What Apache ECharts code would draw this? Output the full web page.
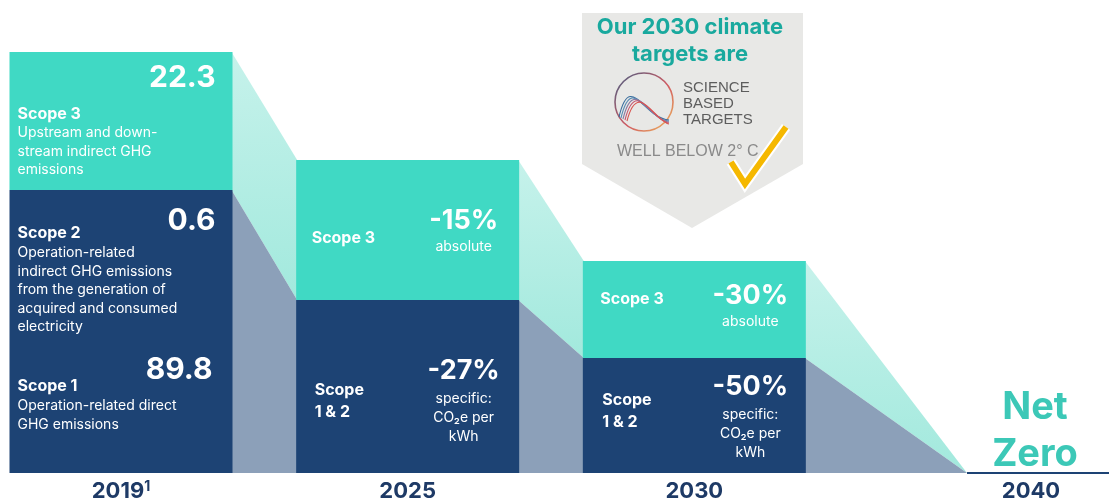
<!DOCTYPE html>
<html>
<head>
<meta charset="utf-8">
<title>Climate targets</title>
<script src="https://cdn.jsdelivr.net/npm/echarts@6/dist/echarts.min.js"></script>
<style>
  html, body { margin: 0; padding: 0; background: #fff; }
  #chart { width: 1109px; height: 503px; }
</style>
</head>
<body>
<div id="chart"></div>
<script>
const years = ['2019', '2025', '2030', '2040'];
// block heights as drawn in the infographic (it is not to scale)
const scope12Height = [283, 173, 115, 0];
const scope3Height = [138, 140, 97, 0];
// 2019 baseline, per scope (top to bottom)
const baselineScopes = ['Scope 3', 'Scope 2', 'Scope 1'];
const baselineValues = [22.3, 0.6, 89.8];
const baselineNotes = [
  'Upstream and down-\nstream indirect GHG\nemissions',
  'Operation-related\nindirect GHG emissions\nfrom the generation of\nacquired and consumed\nelectricity',
  'Operation-related direct\nGHG emissions'
];
// reduction targets vs 2019
const scope3Target = [null, -15, -30, null];
const scope12Target = [null, -27, -50, null];
const scope3TargetNote = 'absolute';
const scope12TargetNote = 'specific:\nCO₂e per\nkWh';

const TEAL = '#40d9c4';
const NAVY = '#1d4374';
const SLATE = '#8ca0b9';
const INK = '#1e3a66';
const FONT = 'Inter, "Noto Sans", sans-serif';
const BAR_W = 223;

// offsets of the text inside the 2025 / 2030 blocks
const targetLayout = {
  1: { s3Title: [-96, 78], s3Val: [56, 61], s12Title: [-93, 90], s12Val: [56, 71] },
  2: { s3Title: [-94, 38], s3Val: [56, 35], s12Title: [-92, 42], s12Val: [56, 29] }
};

function txt(s, x, y, size, weight, align, extra) {
  return {
    type: 'text',
    style: Object.assign({
      text: s, x: x, y: y, fill: '#fff',
      fontSize: size, fontWeight: weight, fontFamily: FONT,
      align: align, verticalAlign: 'middle'
    }, extra || {})
  };
}
function para(s, x, yFirst, size, align, lh) {
  return txt(s, x, yFirst - lh / 2, size, 'normal', align, { verticalAlign: 'top', lineHeight: lh });
}

const connectorData = [];
for (let i = 0; i < years.length - 1; i++) {
  connectorData.push([i, scope12Height[i], scope3Height[i], scope12Height[i + 1], scope3Height[i + 1]]);
}
const barData = years.map((y, i) => [i, scope12Height[i], scope3Height[i]]);

function renderConnector(params, api) {
  const i = api.value(0);
  const a = api.coord([i, 0]);
  const b = api.coord([i + 1, 0]);
  const xr = a[0] + BAR_W / 2 - 1;
  const nextTotal = api.value(3) + api.value(4);
  const xl = nextTotal > 0 ? b[0] - BAR_W / 2 + 1 : b[0] - 14;
  const midA = api.coord([i, api.value(1)])[1];
  const topA = api.coord([i, api.value(1) + api.value(2)])[1];
  const midB = api.coord([i + 1, api.value(3)])[1];
  const topB = api.coord([i + 1, api.value(3) + api.value(4)])[1];
  return {
    type: 'group',
    children: [
      {
        type: 'polygon',
        shape: { points: [[xr, topA], [xl, topB], [xl, midB], [xr, midA]] },
        style: {
          fill: new echarts.graphic.LinearGradient(0, 0, 0, 1, [
            { offset: 0, color: '#c6f2eb' },
            { offset: 1, color: '#a2e9dd' }
          ])
        }
      },
      {
        type: 'polygon',
        shape: { points: [[xr, midA], [xl, midB], [xl, a[1]], [xr, a[1]]] },
        style: { fill: SLATE }
      }
    ]
  };
}

function renderBar(params, api) {
  const i = api.value(0);
  const s12 = api.value(1);
  const s3 = api.value(2);
  const base = api.coord([i, 0]);
  const cx = base[0];
  const children = [];

  if (s12 + s3 === 0) {
    // net zero: no block, just the baseline and the label
    const apex = cx - 14;
    children.push({ type: 'line', shape: { x1: apex, y1: base[1], x2: api.getWidth(), y2: base[1] }, style: { stroke: NAVY, lineWidth: 2 } });
    children.push(txt('Net', apex + 68, base[1] - 65, 38, 'bold', 'center', { fill: '#3cc8b7' }));
    children.push(txt('Zero', apex + 68, base[1] - 18, 38, 'bold', 'center', { fill: '#3cc8b7' }));
    return { type: 'group', children: children };
  }

  const x0 = cx - BAR_W / 2;
  const mid = api.coord([i, s12])[1];
  const top = api.coord([i, s12 + s3])[1];
  children.push({ type: 'rect', shape: { x: x0, y: mid, width: BAR_W, height: base[1] - mid }, style: { fill: NAVY } });
  children.push({ type: 'rect', shape: { x: x0, y: top, width: BAR_W, height: mid - top }, style: { fill: TEAL } });

  if (i === 0) {
    const rows = [
      { y: top, val: 26, title: 62, note: 81, right: 206 },
      { y: mid, val: 31, title: 43, note: 63, right: 206 },
      { y: mid, val: 180, title: 196, note: 216, right: 203 }
    ];
    rows.forEach((r, k) => {
      children.push(txt(baselineValues[k].toFixed(1), x0 + r.right, r.y + r.val, 30, 'bold', 'right'));
      children.push(txt(baselineScopes[k], x0 + 8, r.y + r.title, 16, 'bold', 'left'));
      children.push(para(baselineNotes[k], x0 + 8, r.y + r.note, 14, 'left', 18.5));
    });
  } else {
    const L = targetLayout[i];
    children.push(txt('Scope 3', cx + L.s3Title[0], top + L.s3Title[1], 16, 'bold', 'left'));
    children.push(txt(scope3Target[i] + '%', cx + L.s3Val[0], top + L.s3Val[1], 27, 'bold', 'center'));
    children.push(txt(scope3TargetNote, cx + L.s3Val[0], top + L.s3Val[1] + 26, 14, 'normal', 'center'));
    children.push(txt('Scope\n1 & 2', cx + L.s12Title[0], mid + L.s12Title[1] - 11, 16, 'bold', 'left',
      { verticalAlign: 'top', lineHeight: 22 }));
    children.push(txt(scope12Target[i] + '%', cx + L.s12Val[0], mid + L.s12Val[1], 27, 'bold', 'center'));
    children.push(para(scope12TargetNote, cx + L.s12Val[0], mid + L.s12Val[1] + 28, 14, 'center', 19));
  }
  return { type: 'group', children: children };
}

// "Our 2030 climate targets are ..." badge
const badge = [
  {
    type: 'polygon', z: 10,
    shape: { points: [[582, 13], [803, 13], [803, 164], [692, 228], [582, 164]] },
    style: { fill: '#e8e8e6' }
  },
  {
    type: 'text', z: 11,
    style: {
      text: 'Our 2030 climate\ntargets are', x: 690, y: 14, align: 'center', verticalAlign: 'top',
      fontSize: 22, fontWeight: 'bold', fontFamily: FONT, fill: '#19a99e', lineHeight: 27
    }
  },
  {
    type: 'circle', z: 11,
    shape: { cx: 644, cy: 102, r: 29 },
    style: {
      fill: 'none', lineWidth: 1.6,
      stroke: new echarts.graphic.LinearGradient(0, 0, 1, 1, [
        { offset: 0, color: '#3b5f86' },
        { offset: 0.55, color: '#d05a62' },
        { offset: 1, color: '#f2c15a' }
      ])
    }
  }
];
['#3a6e9e', '#5b8db5', '#8a7aa0', '#c65670', '#d9534f'].forEach((c, k) => {
  badge.push({
    type: 'bezierCurve', z: 11,
    shape: { x1: 619 + k * 2, y1: 117 + k, cpx1: 630 + k * 2, cpy1: 70 + k * 2, cpx2: 643 + k * 3, cpy2: 118 + k, x2: 669, y2: 120 + k },
    style: { stroke: c, lineWidth: 1.1, fill: 'none' }
  });
});
badge.push(
  {
    type: 'text', z: 11,
    style: {
      text: 'SCIENCE\nBASED\nTARGETS', x: 683, y: 80, verticalAlign: 'top', lineHeight: 16,
      fontSize: 15, fontFamily: '"Liberation Sans", Arial, sans-serif', fill: '#5d5d5d'
    }
  },
  {
    type: 'text', z: 11,
    style: {
      text: 'WELL BELOW 2° C', x: 617, y: 152, verticalAlign: 'middle',
      fontSize: 16, fontFamily: '"Liberation Sans", Arial, sans-serif', fill: '#8a8a8a'
    }
  },
  {
    type: 'polyline', z: 12,
    shape: { points: [[731, 162], [745, 184], [786, 127]] },
    style: { stroke: '#ffffff', lineWidth: 10, fill: 'none', lineJoin: 'miter' }
  },
  {
    type: 'polyline', z: 13,
    shape: { points: [[731, 162], [745, 184], [786, 127]] },
    style: { stroke: '#f5b800', lineWidth: 6, fill: 'none', lineJoin: 'miter' }
  }
);

const chart = echarts.init(document.getElementById('chart'));
chart.setOption({
  animation: false,
  backgroundColor: '#ffffff',
  grid: { left: 121, right: 128, top: 52, bottom: 30, containLabel: false },
  xAxis: {
    type: 'category',
    data: years,
    boundaryGap: false,
    axisLine: { show: false },
    axisTick: { show: false },
    axisLabel: {
      margin: 7,
      formatter: (v, i) => i === 0 ? '{y|' + v + '}{sup|1}' : (i === years.length - 1 ? '{far|' + v + '}' : '{y|' + v + '}'),
      rich: {
        y: { fontSize: 22, fontWeight: 'bold', fontFamily: FONT, color: INK },
        sup: { fontSize: 14, fontWeight: 'bold', fontFamily: FONT, color: INK, verticalAlign: 'top' },
        far: { fontSize: 22, fontWeight: 'bold', fontFamily: FONT, color: INK, padding: [0, 0, 0, 100] }
      }
    }
  },
  yAxis: { type: 'value', min: 0, max: 421, show: false },
  series: [
    { type: 'custom', name: 'transition', renderItem: renderConnector, data: connectorData, encode: { x: 0, y: 1 }, z: 1, clip: false },
    { type: 'custom', name: 'blocks', renderItem: renderBar, data: barData, encode: { x: 0, y: 1 }, z: 2, clip: false }
  ],
  graphic: badge
});
</script>
</body>
</html>
